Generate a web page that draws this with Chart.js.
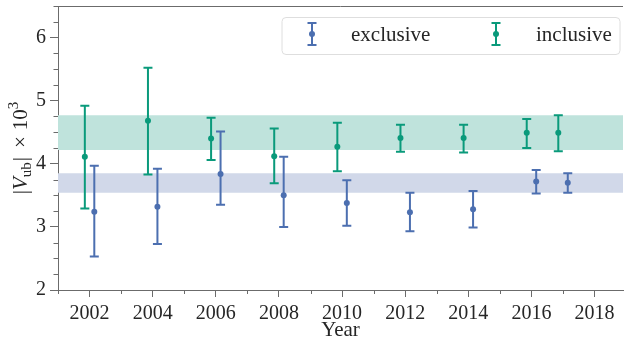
<!DOCTYPE html>
<html>
<head>
<meta charset="utf-8">
<script src="https://cdn.jsdelivr.net/npm/chart.js@4/dist/chart.umd.min.js"></script>
<style>
  html, body { margin: 0; padding: 0; background: #fff; }
  #wrap { width: 627px; height: 340px; }
</style>
</head>
<body>
<div id="wrap"><canvas id="chart"></canvas></div>
<script>
// Data
const years = [2002, 2004, 2006, 2008, 2010, 2012, 2014, 2016, 2017];
const exclusiveVal = [3.24, 3.32, 3.84, 3.50, 3.38, 3.23, 3.28, 3.72, 3.70];
const exclusiveLo  = [2.53, 2.73, 3.35, 3.00, 3.02, 2.93, 2.99, 3.53, 3.54];
const exclusiveHi  = [3.97, 3.92, 4.51, 4.11, 3.74, 3.54, 3.57, 3.90, 3.85];
const inclusiveVal = [4.11, 4.68, 4.40, 4.12, 4.27, 4.41, 4.41, 4.49, 4.49];
const inclusiveLo  = [3.29, 3.83, 4.06, 3.69, 3.88, 4.19, 4.18, 4.25, 4.20];
const inclusiveHi  = [4.92, 5.52, 4.73, 4.56, 4.65, 4.62, 4.62, 4.71, 4.77];
const exclusiveBand = [3.54, 3.85];
const inclusiveBand = [4.22, 4.77];
const xTicks = [2002, 2004, 2006, 2008, 2010, 2012, 2014, 2016, 2018];
const yTicks = [2, 3, 4, 5, 6];

// Style
const BLUE = '#4c6fb0';
const GREEN = '#0a9a7b';
const BLUE_BAND = '#d1d8e9';
const GREEN_BAND = '#bfe3dc';
const AXIS = '#6b6b6b';
const TEXT = '#262626';
const FONT = "'Liberation Serif', 'DejaVu Serif', serif";
const OFFSET = 0.15; // horizontal shift between the two series

function bandData(v) {
  return [{ x: 2000, y: v }, { x: 2020, y: v }];
}

function pointData(vals, shift) {
  return years.map((yr, i) => ({ x: yr + shift, y: vals[i] }));
}

// Error bars drawn from lo/hi arrays through the chart scales
const errorBars = {
  id: 'errorBars',
  afterDatasetsDraw(chart) {
    const { ctx, scales: { x, y } } = chart;
    chart.data.datasets.forEach(ds => {
      if (!ds.lo) return;
      ctx.save();
      ctx.strokeStyle = ds.borderColor;
      ctx.lineWidth = 2;
      ds.data.forEach((p, j) => {
        const px = x.getPixelForValue(p.x);
        const y0 = y.getPixelForValue(ds.lo[j]);
        const y1 = y.getPixelForValue(ds.hi[j]);
        ctx.beginPath();
        ctx.moveTo(px, y0); ctx.lineTo(px, y1);
        ctx.moveTo(px - 4.5, y0); ctx.lineTo(px + 4.5, y0);
        ctx.moveTo(px - 4.5, y1); ctx.lineTo(px + 4.5, y1);
        ctx.stroke();
      });
      ctx.restore();
    });
  }
};

// Minor ticks, top spine, y title and legend
const decorations = {
  id: 'decorations',
  afterDraw(chart) {
    const { ctx, chartArea: a, scales: { x, y } } = chart;
    ctx.save();
    ctx.strokeStyle = AXIS;
    ctx.lineWidth = 1;
    ctx.beginPath();
    for (let v = 2001; v <= 2018; v++) {
      if (v % 2 === 0) continue;
      const px = Math.round(x.getPixelForValue(v)) + 0.5;
      ctx.moveTo(px, a.bottom); ctx.lineTo(px, a.bottom + 4);
    }
    for (let v = 2; v <= 6.5; v += 0.25) {
      if (Number.isInteger(v)) continue;
      const py = Math.round(y.getPixelForValue(v)) + 0.5;
      ctx.moveTo(a.left, py); ctx.lineTo(a.left - 4.5, py);
    }
    // top spine
    ctx.moveTo(a.left, Math.round(a.top) + 0.5);
    ctx.lineTo(a.right, Math.round(a.top) + 0.5);
    ctx.stroke();

    // y axis title: |V_ub| x 10^3
    ctx.translate(20, (a.top + a.bottom) / 2);
    ctx.rotate(-Math.PI / 2);
    ctx.fillStyle = TEXT;
    ctx.textBaseline = 'alphabetic';
    const big = '21px ' + FONT, bigIt = 'italic 21px ' + FONT, small = '15px ' + FONT;
    const parts = [
      { t: '|', f: big, dy: 0 },
      { t: 'V', f: bigIt, dy: 0 },
      { t: 'ub', f: small, dy: 4 },
      { t: '|', f: big, dy: 0, gap: 1 },
      { t: '\u00d7', f: big, dy: 0, gap: 9 },
      { t: '10', f: big, dy: 0, gap: 6 },
      { t: '3', f: small, dy: -9 }
    ];
    let total = 0;
    parts.forEach(p => { ctx.font = p.f; p.w = ctx.measureText(p.t).width; total += p.w + (p.gap || 0); });
    let cx = -total / 2;
    parts.forEach(p => {
      cx += p.gap || 0;
      ctx.font = p.f;
      ctx.fillText(p.t, cx, 7 + p.dy);
      cx += p.w;
    });
    ctx.restore();

    // legend
    ctx.save();
    const lx = 282, ly = 17.5, lw = 338, lh = 37;
    ctx.beginPath();
    ctx.roundRect(lx, ly, lw, lh, 4);
    ctx.fillStyle = 'rgba(255,255,255,0.85)';
    ctx.fill();
    ctx.strokeStyle = '#dedede';
    ctx.lineWidth = 1;
    ctx.stroke();
    const items = [
      { label: 'exclusive', color: BLUE, mx: 312, tx: 351 },
      { label: 'inclusive', color: GREEN, mx: 496, tx: 536 }
    ];
    items.forEach(it => {
      ctx.strokeStyle = it.color;
      ctx.fillStyle = it.color;
      ctx.lineWidth = 2;
      ctx.beginPath();
      ctx.moveTo(it.mx, 23); ctx.lineTo(it.mx, 45);
      ctx.moveTo(it.mx - 4.5, 23); ctx.lineTo(it.mx + 4.5, 23);
      ctx.moveTo(it.mx - 4.5, 45); ctx.lineTo(it.mx + 4.5, 45);
      ctx.stroke();
      ctx.beginPath();
      ctx.arc(it.mx, 34, 3, 0, Math.PI * 2);
      ctx.fill();
      ctx.fillStyle = TEXT;
      ctx.font = '21px ' + FONT;
      ctx.textBaseline = 'alphabetic';
      ctx.fillText(it.label, it.tx, 41);
    });
    ctx.restore();
  }
};

const ctx = document.getElementById('chart').getContext('2d');
new Chart(ctx, {
  type: 'scatter',
  data: {
    datasets: [
      { type: 'line', data: bandData(exclusiveBand[0]), borderWidth: 0, pointRadius: 0, fill: false, order: 3 },
      { type: 'line', data: bandData(exclusiveBand[1]), borderWidth: 0, pointRadius: 0, fill: '-1', backgroundColor: BLUE_BAND, order: 3 },
      { type: 'line', data: bandData(inclusiveBand[0]), borderWidth: 0, pointRadius: 0, fill: false, order: 3 },
      { type: 'line', data: bandData(inclusiveBand[1]), borderWidth: 0, pointRadius: 0, fill: '-1', backgroundColor: GREEN_BAND, order: 3 },
      { label: 'exclusive', data: pointData(exclusiveVal, OFFSET), lo: exclusiveLo, hi: exclusiveHi,
        backgroundColor: BLUE, borderColor: BLUE, pointRadius: 3, pointBorderWidth: 0, order: 1 },
      { label: 'inclusive', data: pointData(inclusiveVal, -OFFSET), lo: inclusiveLo, hi: inclusiveHi,
        backgroundColor: GREEN, borderColor: GREEN, pointRadius: 3, pointBorderWidth: 0, order: 1 }
    ]
  },
  options: {
    responsive: true,
    maintainAspectRatio: false,
    animation: false,
    layout: { padding: { top: 6, right: 0, left: 0, bottom: 0 } },
    plugins: { legend: { display: false }, tooltip: { enabled: false } },
    scales: {
      x: {
        type: 'linear',
        min: 2001,
        max: 2018.9,
        afterBuildTicks: s => { s.ticks = xTicks.map(v => ({ value: v })); },
        afterFit: s => { s.height = 50; s.paddingLeft = 0; s.paddingRight = 0; },
        grid: { drawOnChartArea: false, tickLength: 7, color: AXIS },
        border: { color: AXIS },
        ticks: { color: TEXT, font: { family: FONT, size: 20 }, padding: 5, maxRotation: 0,
                 callback: v => String(v) },
        title: { display: true, text: 'Year', color: TEXT, font: { family: FONT, size: 21, lineHeight: 1 },
                 padding: { top: 0, bottom: -1 } }
      },
      y: {
        min: 2,
        max: 6.5,
        afterBuildTicks: s => { s.ticks = yTicks.map(v => ({ value: v })); },
        afterFit: s => { s.width = 58; s.paddingTop = 0; s.paddingBottom = 0; },
        grid: { drawOnChartArea: false, tickLength: 8, color: AXIS },
        border: { color: AXIS },
        ticks: { color: TEXT, font: { family: FONT, size: 20 }, padding: 4, callback: v => String(v) }
      }
    }
  },
  plugins: [errorBars, decorations]
});
</script>
</body>
</html>
